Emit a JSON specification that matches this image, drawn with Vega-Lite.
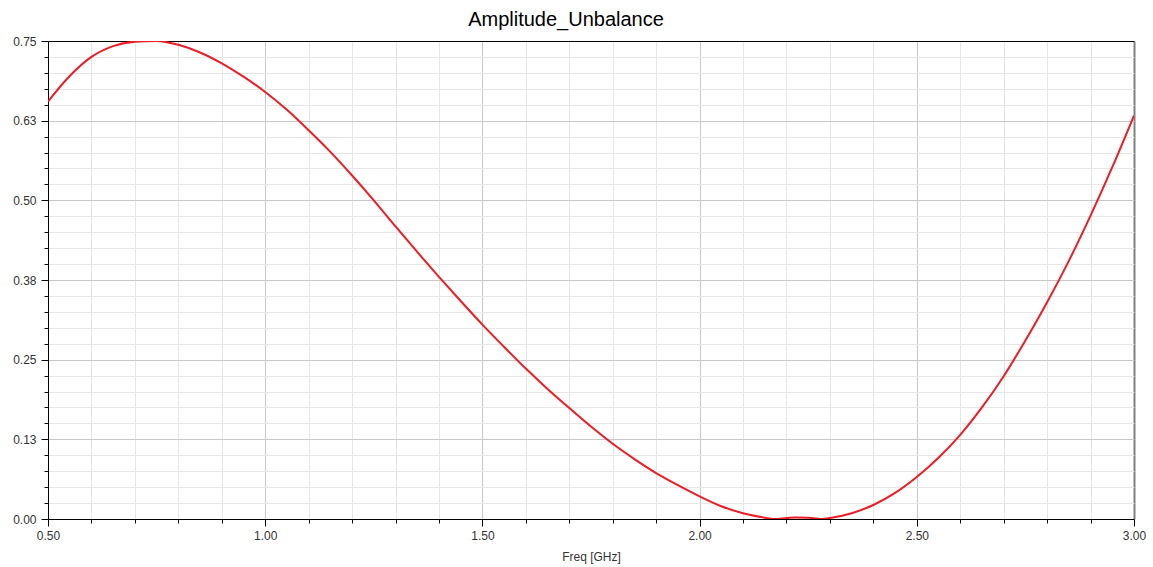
{
  "$schema": "https://vega.github.io/schema/vega-lite/v6.json",
  "width": 1086,
  "height": 478,
  "autosize": {"type": "none"},
  "padding": {"left": 48, "top": 41, "right": 19, "bottom": 48},
  "background": "white",
  "config": {
    "view": {"stroke": null},
    "font": "Liberation Sans"
  },
  "title": {
    "text": "Amplitude_Unbalance",
    "fontSize": 20,
    "fontWeight": "normal",
    "color": "#000000",
    "font": "Liberation Sans",
    "anchor": "middle",
    "offset": 5,
    "dx": -25
  },
  "data": {
    "values": [
      {"freq": 0.50, "value": 0.655},
      {"freq": 0.55, "value": 0.695},
      {"freq": 0.60, "value": 0.725},
      {"freq": 0.65, "value": 0.742},
      {"freq": 0.70, "value": 0.749},
      {"freq": 0.75, "value": 0.750},
      {"freq": 0.80, "value": 0.744},
      {"freq": 0.85, "value": 0.732},
      {"freq": 0.90, "value": 0.715},
      {"freq": 0.95, "value": 0.694},
      {"freq": 1.00, "value": 0.670},
      {"freq": 1.05, "value": 0.642},
      {"freq": 1.10, "value": 0.610},
      {"freq": 1.15, "value": 0.576},
      {"freq": 1.20, "value": 0.539},
      {"freq": 1.25, "value": 0.500},
      {"freq": 1.30, "value": 0.459},
      {"freq": 1.35, "value": 0.419},
      {"freq": 1.40, "value": 0.380},
      {"freq": 1.45, "value": 0.342},
      {"freq": 1.50, "value": 0.305},
      {"freq": 1.55, "value": 0.270},
      {"freq": 1.60, "value": 0.236},
      {"freq": 1.65, "value": 0.204},
      {"freq": 1.70, "value": 0.174},
      {"freq": 1.75, "value": 0.145},
      {"freq": 1.80, "value": 0.118},
      {"freq": 1.85, "value": 0.094},
      {"freq": 1.90, "value": 0.072},
      {"freq": 1.95, "value": 0.053},
      {"freq": 2.00, "value": 0.0355},
      {"freq": 2.05, "value": 0.020},
      {"freq": 2.10, "value": 0.009},
      {"freq": 2.15, "value": 0.002},
      {"freq": 2.17, "value": 0.000},
      {"freq": 2.20, "value": 0.0015},
      {"freq": 2.22, "value": 0.0025},
      {"freq": 2.25, "value": 0.002},
      {"freq": 2.28, "value": 0.000},
      {"freq": 2.30, "value": 0.0015},
      {"freq": 2.35, "value": 0.009},
      {"freq": 2.40, "value": 0.022},
      {"freq": 2.45, "value": 0.041},
      {"freq": 2.50, "value": 0.066},
      {"freq": 2.55, "value": 0.096},
      {"freq": 2.60, "value": 0.132},
      {"freq": 2.65, "value": 0.175},
      {"freq": 2.70, "value": 0.224},
      {"freq": 2.75, "value": 0.280},
      {"freq": 2.80, "value": 0.340},
      {"freq": 2.85, "value": 0.405},
      {"freq": 2.90, "value": 0.476},
      {"freq": 2.95, "value": 0.552},
      {"freq": 3.00, "value": 0.633}
    ]
  },
  "mark": {"type": "line", "color": "#ee1c25", "strokeWidth": 2, "interpolate": "monotone", "clip": true},
  "encoding": {
    "x": {
      "field": "freq",
      "type": "quantitative",
      "scale": {"domain": [0.5, 3.0], "nice": false, "zero": false},
      "axis": {
        "title": "Freq [GHz]",
        "titleFontSize": 12,
        "titleFontWeight": "normal",
        "titleColor": "#333333",
        "titleFont": "Liberation Sans",
        "titlePadding": 10,
        "values": [0.5, 0.6, 0.7, 0.8, 0.9, 1.0, 1.1, 1.2, 1.3, 1.4, 1.5, 1.6, 1.7, 1.8, 1.9, 2.0, 2.1, 2.2, 2.3, 2.4, 2.5, 2.6, 2.7, 2.8, 2.9, 3.0],
        "labelExpr": "abs(datum.value*2 - round(datum.value*2)) < 0.000001 ? format(datum.value, '.2f') : ''",
        "labelFontSize": 12,
        "labelColor": "#333333",
        "labelFont": "Liberation Sans",
        "labelPadding": 4,
        "labelFlush": false,
        "labelOverlap": false,
        "domainColor": "#000000",
        "domainWidth": 1,
        "tickColor": "#000000",
        "tickSize": {"condition": {"test": "abs(datum.value*2 - round(datum.value*2)) < 0.000001", "value": 7}, "value": 4},
        "grid": true,
        "gridColor": {"condition": [
          {"test": "datum.value > 2.999", "value": "#808080"},
          {"test": "abs(datum.value*2 - round(datum.value*2)) < 0.000001", "value": "#c8c8c8"}
        ], "value": "#e6e6e6"},
        "gridWidth": {"condition": {"test": "datum.value > 2.999", "value": 2}, "value": 1}
      }
    },
    "y": {
      "field": "value",
      "type": "quantitative",
      "scale": {"domain": [0, 0.75], "nice": false},
      "axis": {
        "title": null,
        "values": [0, 0.025, 0.05, 0.075, 0.1, 0.125, 0.15, 0.175, 0.2, 0.225, 0.25, 0.275, 0.3, 0.325, 0.35, 0.375, 0.4, 0.425, 0.45, 0.475, 0.5, 0.525, 0.55, 0.575, 0.6, 0.625, 0.65, 0.675, 0.7, 0.725, 0.75],
        "labelExpr": "abs(datum.value*8 - round(datum.value*8)) < 0.000001 ? format(datum.value, '.2f') : ''",
        "labelFontSize": 12,
        "labelColor": "#333333",
        "labelFont": "Liberation Sans",
        "labelPadding": 5,
        "labelFlush": false,
        "labelOverlap": false,
        "domainColor": "#000000",
        "domainWidth": 1,
        "tickColor": "#000000",
        "tickSize": {"condition": {"test": "abs(datum.value*8 - round(datum.value*8)) < 0.000001", "value": 7}, "value": 4},
        "grid": true,
        "gridColor": {"condition": [
          {"test": "datum.value > 0.749", "value": "#000000"},
          {"test": "abs(datum.value*8 - round(datum.value*8)) < 0.000001", "value": "#c8c8c8"}
        ], "value": "#e6e6e6"}
      }
    }
  }
}
